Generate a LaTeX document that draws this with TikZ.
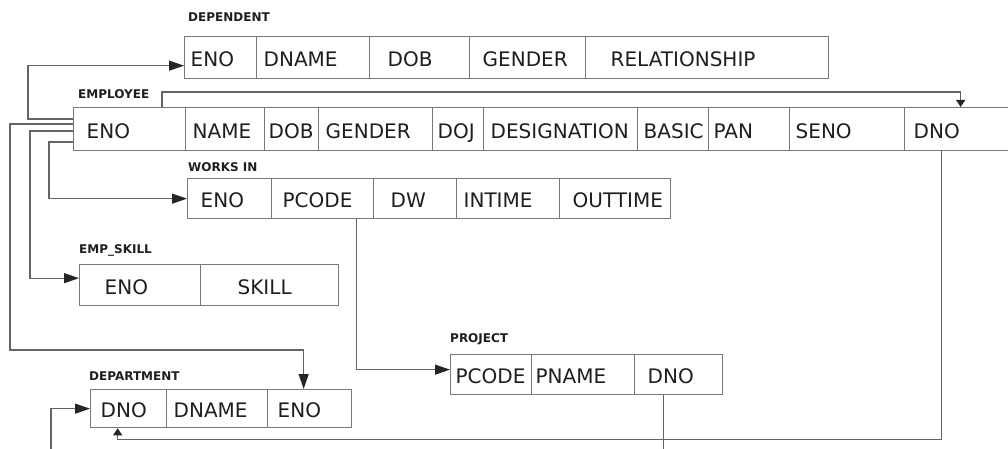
\documentclass[tikz,border=0pt]{standalone}
\usepackage{fontspec}
\setmainfont{DejaVu Sans}
\usetikzlibrary{arrows.meta,positioning,calc}
\definecolor{lnGray}{RGB}{100,100,100}
\definecolor{boxGray}{RGB}{120,120,120}
\definecolor{txtGray}{RGB}{30,30,30}
\tikzset{
  fld/.style={draw=boxGray, line width=1.3pt, rectangle, anchor=north west, inner ysep=0pt,
    align=left, text height=18pt, text depth=0pt, text=txtGray, font=\fontsize{20}{24}\selectfont},
  tbl/.style={anchor=west, inner sep=0pt, text height=8.8pt, text depth=0pt, text=txtGray,
    font=\bfseries\fontsize{12}{14}\selectfont},
  rail/.style={line width=1.2pt, draw=lnGray},
  fk/.style={rail, -{Triangle[length=15pt,width=10pt,color=black!85]}},
  fksmall/.style={rail, -{Triangle[length=7pt,width=9pt,color=black!85]}},
}
% field cell: name, left, right, text start, text
\newcommand{\fieldcell}[5]{%
  \pgfmathsetmacro{\fldw}{#3-#2}%
  \pgfmathsetmacro{\fldpad}{#4-#2}%
  \pgfmathsetmacro{\fldtw}{#3+#2-2*#4}%
  \node[fld, minimum width=\fldw pt, minimum height=\tblht pt, inner xsep=\fldpad pt,
    text width=\fldtw pt] (#1) at (#2,\tbltop) {#5};%
}

\begin{document}
\begin{tikzpicture}[x=1pt, y=-1pt]
    \useasboundingbox (0,0) rectangle (1008,449);
    % table titles
    \node[tbl] (tDependent) at (188,17) {DEPENDENT};
    \node[tbl] (tEmployee) at (78,94) {EMPLOYEE};
    \node[tbl] (tWorksIn) at (188,167) {WORKS IN};
    \node[tbl] (tEmpSkill) at (79,249) {EMP\_SKILL};
    \node[tbl] (tProject) at (450,338) {PROJECT};
    \node[tbl] (tDepartment) at (89,376) {DEPARTMENT};
    % DEPENDENT
    \def\tbltop{36}\def\tblht{42}
    \fieldcell{dENO}{184}{256}{190}{ENO}
    \fieldcell{dDNAME}{256}{369}{263}{DNAME}
    \fieldcell{dDOB}{369}{469}{387}{DOB}
    \fieldcell{dGENDER}{469}{585}{482}{GENDER}
    \fieldcell{dREL}{585}{828}{610}{RELATIONSHIP}
    % EMPLOYEE
    \def\tbltop{107}\def\tblht{43}
    \fieldcell{eENO}{73}{185}{86}{ENO}
    \fieldcell{eNAME}{185}{264}{192}{NAME}
    \fieldcell{eDOB}{264}{318}{268}{DOB}
    \fieldcell{eGENDER}{318}{432}{325}{GENDER}
    \fieldcell{eDOJ}{432}{483}{437}{DOJ}
    \fieldcell{eDESIG}{483}{637}{490}{DESIGNATION}
    \fieldcell{eBASIC}{637}{708}{643}{BASIC}
    \fieldcell{ePAN}{708}{789}{713}{PAN}
    \fieldcell{eSENO}{789}{904}{795}{SENO}
    \fieldcell{eDNO}{904}{1012}{913}{DNO}
    % WORKS IN
    \def\tbltop{178}\def\tblht{40}
    \fieldcell{wENO}{187}{271}{200}{ENO}
    \fieldcell{wPCODE}{271}{373}{282}{PCODE}
    \fieldcell{wDW}{373}{456}{390}{DW}
    \fieldcell{wINTIME}{456}{559}{463}{INTIME}
    \fieldcell{wOUTTIME}{559}{670}{572}{OUTTIME}
    % EMP_SKILL
    \def\tbltop{264}\def\tblht{41}
    \fieldcell{sENO}{79}{200}{104}{ENO}
    \fieldcell{sSKILL}{200}{338}{237}{SKILL}
    % PROJECT
    \def\tbltop{354}\def\tblht{40}
    \fieldcell{pPCODE}{450}{531}{455}{PCODE}
    \fieldcell{pPNAME}{531}{634}{535}{PNAME}
    \fieldcell{pDNO}{634}{722}{647}{DNO}
    % DEPARTMENT
    \def\tbltop{389}\def\tblht{38}
    \fieldcell{tDNO}{90}{166}{100}{DNO}
    \fieldcell{tDNAME}{166}{267}{173}{DNAME}
    \fieldcell{tENO}{267}{351}{277}{ENO}
    % links out of EMPLOYEE.ENO
    \draw[fk] ([yshift=-12pt]eENO.north west) -- ++(-45,0) |- ([yshift=-8pt]dENO.west);
    \draw[fk] ([yshift=-17pt]eENO.north west) -- ++(-63,0)
      |- ([xshift=-6pt,yshift=39pt]tENO.north) -- ([xshift=-6pt]tENO.north);
    \draw[fk] ([yshift=-24pt]eENO.north west) -- ++(-43,0) |- ([yshift=7pt]sENO.west);
    \draw[fk] ([yshift=-35pt]eENO.north west) -- ++(-24,0) |- (wENO.west);
    \draw[fksmall] ([xshift=89pt]eENO.north west) -- ++(0,-15) -| ([xshift=2pt]eDNO.north);
    % PCODE and DNO links
    \draw[fk] ([xshift=34pt]wPCODE.south) |- ([yshift=5pt]pPCODE.west);
    \draw[fksmall] ([xshift=-17pt]eDNO.south) |- ([xshift=-11pt,yshift=-11pt]tDNO.south)
      -- ([xshift=-11pt]tDNO.south);
    \coordinate (pOut) at ($(pDNO.south)+(-15,70)$);
    \draw[rail] ([xshift=-15pt]pDNO.south) -- (pOut);
    \coordinate (tIn) at (51,470);
    \draw[fk] (tIn) |- (tDNO.west);
\end{tikzpicture}
\end{document}
